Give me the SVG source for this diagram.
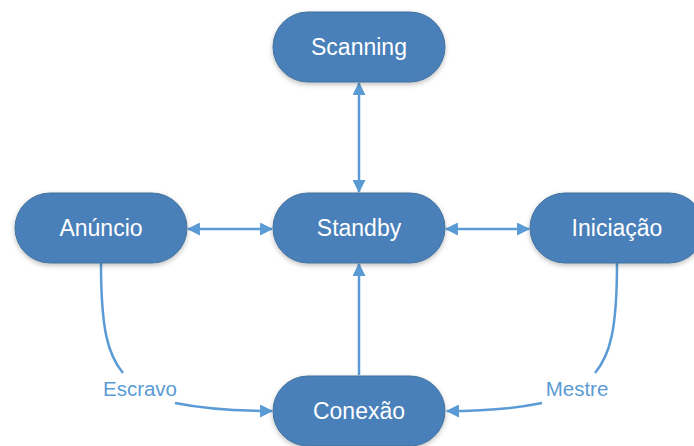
<svg xmlns="http://www.w3.org/2000/svg" width="694" height="446" viewBox="0 0 694 446">
  <style>
    .node rect { fill: #4a80b9; stroke: #41719c; stroke-width: 1; filter: url(#shadow); }
    .node text { fill: #ffffff; font-family: "Liberation Sans", Arial, sans-serif; font-size: 23px; text-anchor: middle; dominant-baseline: central; }
    .edge { fill: none; stroke: #5b9bd5; stroke-width: 2.5; }
    .label { fill: #5b9bd5; font-family: "Liberation Sans", Arial, sans-serif; font-size: 20.5px; text-anchor: middle; dominant-baseline: central; }
  </style>
  <defs>
    <filter id="shadow" x="-20%" y="-30%" width="140%" height="170%">
      <feDropShadow dx="0" dy="2" stdDeviation="2.5" flood-color="#000000" flood-opacity="0.25"/>
    </filter>
    <marker id="arrow" viewBox="0 0 12 12" refX="11" refY="6" markerWidth="13" markerHeight="13" markerUnits="userSpaceOnUse" orient="auto-start-reverse">
      <path d="M0,0 L12,6 L0,12 Z" fill="#5b9bd5"/>
    </marker>
  </defs>

  <!-- connectors -->
  <g id="connectors">
    <line class="edge" x1="359" y1="83" x2="359" y2="192" marker-start="url(#arrow)" marker-end="url(#arrow)"/>
    <line class="edge" x1="188" y1="229" x2="272" y2="229" marker-start="url(#arrow)" marker-end="url(#arrow)"/>
    <line class="edge" x1="446" y1="229" x2="529" y2="229" marker-start="url(#arrow)" marker-end="url(#arrow)"/>
    <line class="edge" x1="359" y1="375" x2="359" y2="264" marker-end="url(#arrow)"/>
    <path class="edge" d="M101,263 C101,330 108,355 123,373"/>
    <path class="edge" d="M175,403 C210,410 240,411 272,411" marker-end="url(#arrow)"/>
    <path class="edge" d="M617,263 C617,330 610,355 595,373"/>
    <path class="edge" d="M542,403 C508,410 478,411 447,411" marker-end="url(#arrow)"/>
    <text class="label" x="140" y="388">Escravo</text>
    <text class="label" x="577" y="388">Mestre</text>
  </g>

  <!-- nodes -->
  <g id="scanning" class="node">
    <rect x="273" y="12" width="172" height="70" rx="35"/>
    <text x="359" y="47">Scanning</text>
  </g>
  <g id="standby" class="node">
    <rect x="273" y="193" width="172" height="70" rx="35"/>
    <text x="359" y="228">Standby</text>
  </g>
  <g id="anuncio" class="node">
    <rect x="15" y="193" width="172" height="70" rx="35"/>
    <text x="101" y="228">Anúncio</text>
  </g>
  <g id="iniciacao" class="node">
    <rect x="530" y="193" width="174" height="70" rx="35"/>
    <text x="617" y="228">Iniciação</text>
  </g>
  <g id="conexao" class="node">
    <rect x="273" y="376" width="172" height="70" rx="35"/>
    <text x="359" y="411">Conexão</text>
  </g>
</svg>
